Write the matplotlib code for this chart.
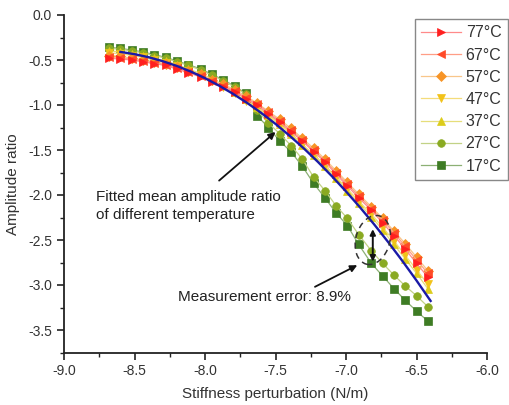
import matplotlib
matplotlib.use("Agg")
import matplotlib.pyplot as plt
import matplotlib.transforms as mtransforms
from matplotlib.patches import Ellipse
from matplotlib.ticker import MultipleLocator

plt.rcParams['font.family'] = ['Liberation Sans', 'DejaVu Sans']

# ---------------- data ----------------
x = [-8.68, -8.60, -8.52, -8.44, -8.36, -8.28, -8.20, -8.12, -8.03, -7.95,
     -7.87, -7.79, -7.71, -7.63, -7.55, -7.47, -7.39, -7.31, -7.23, -7.15,
     -7.07, -6.99, -6.91, -6.82, -6.74, -6.66, -6.58, -6.50, -6.42]

t77 = [-0.48, -0.49, -0.50, -0.52, -0.54, -0.56, -0.60, -0.64, -0.69, -0.74,
       -0.80, -0.85, -0.93, -1.00, -1.10, -1.19, -1.30, -1.40, -1.52, -1.63,
       -1.77, -1.90, -2.03, -2.17, -2.31, -2.45, -2.60, -2.76, -2.91]
t67 = [-0.47, -0.48, -0.49, -0.51, -0.53, -0.55, -0.59, -0.63, -0.68, -0.73,
       -0.79, -0.84, -0.92, -0.99, -1.08, -1.18, -1.28, -1.39, -1.50, -1.62,
       -1.75, -1.88, -2.01, -2.15, -2.28, -2.42, -2.57, -2.72, -2.87]
t57 = [-0.45, -0.46, -0.48, -0.50, -0.52, -0.54, -0.58, -0.62, -0.66, -0.72,
       -0.77, -0.83, -0.90, -0.98, -1.07, -1.16, -1.26, -1.37, -1.48, -1.60,
       -1.73, -1.86, -1.99, -2.13, -2.26, -2.40, -2.54, -2.69, -2.84]
t47 = [-0.42, -0.43, -0.45, -0.47, -0.50, -0.53, -0.57, -0.62, -0.67, -0.73,
       -0.80, -0.87, -0.95, -1.03, -1.12, -1.22, -1.32, -1.44, -1.55, -1.67,
       -1.80, -1.93, -2.07, -2.21, -2.36, -2.51, -2.67, -2.83, -2.99]
t37 = [-0.40, -0.41, -0.43, -0.45, -0.48, -0.51, -0.55, -0.60, -0.65, -0.71,
       -0.78, -0.85, -0.93, -1.02, -1.11, -1.21, -1.32, -1.44, -1.56, -1.68,
       -1.81, -1.95, -2.09, -2.24, -2.39, -2.55, -2.71, -2.87, -3.04]
t27 = [-0.37, -0.38, -0.40, -0.42, -0.45, -0.48, -0.52, -0.56, -0.61, -0.67,
       -0.73, -0.80, -0.88, -1.06, -1.20, -1.32, -1.45, -1.60, -1.80, -1.95,
       -2.12, -2.26, -2.44, -2.62, -2.76, -2.89, -3.01, -3.12, -3.24]
t17 = [-0.36, -0.37, -0.39, -0.41, -0.44, -0.47, -0.51, -0.55, -0.60, -0.66,
       -0.72, -0.79, -0.87, -1.12, -1.25, -1.40, -1.52, -1.68, -1.87, -2.03,
       -2.20, -2.34, -2.55, -2.76, -2.90, -3.04, -3.17, -3.29, -3.40]

fit_x = [-8.6, -8.5, -8.4, -8.3, -8.2, -8.1, -8.0, -7.9, -7.8, -7.7, -7.6, -7.5,
         -7.4, -7.3, -7.2, -7.1, -7.0, -6.9, -6.8, -6.7, -6.6, -6.5, -6.4]
fit_y = [-0.410, -0.435, -0.469, -0.513, -0.566, -0.629, -0.702, -0.785, -0.877,
         -0.978, -1.089, -1.210, -1.341, -1.481, -1.631, -1.791, -1.960, -2.138,
         -2.327, -2.525, -2.733, -2.950, -3.177]

labels = ['77°C', '67°C', '57°C', '47°C', '37°C', '27°C', '17°C']
series = [t77, t67, t57, t47, t37, t27, t17]
markers = ['>', '<', 'D', 'v', '^', 'o', 's']
mcolors = ['#ff1f1f', '#ff4a28', '#f79426', '#f2c218', '#dccc1a', '#8aaa22', '#3e7c24']
lcolors = ['#ff8a8a', '#ff9e86', '#f8c68a', '#f4dc7a', '#e6de7a', '#c2d286', '#8cb074']
msizes = [6, 6, 5, 6, 6, 5.5, 5.2]

# ---------------- figure ----------------
fig = plt.figure(figsize=(5.09, 4.05), dpi=100)
ax = fig.add_axes([64/509, 1-352.5/405, (487-64)/509, (352.5-15)/405])

handles = []
for i in range(len(series) - 1, -1, -1):
    h, = ax.plot(x, series[i], color=lcolors[i], lw=0.9, marker=markers[i],
                 ms=msizes[i], mfc=mcolors[i], mec=mcolors[i], mew=0.5,
                 label=labels[i], zorder=2 + (len(series) - i) * 0.1)
    handles.append(h)
handles = handles[::-1]

ax.plot(fit_x, fit_y, color='#1a1aa6', lw=1.7, zorder=5)

ax.set_xlim(-9.0, -6.0)
ax.set_ylim(-3.75, 0.0)
ax.xaxis.set_minor_locator(MultipleLocator(0.25))
ax.yaxis.set_minor_locator(MultipleLocator(0.25))
ax.set_xticks([-9.0, -8.5, -8.0, -7.5, -7.0, -6.5, -6.0])
ax.set_xticklabels(['-9.0', '-8.5', '-8.0', '-7.5', '-7.0', '-6.5', '-6.0'])
ax.set_yticks([0.0, -0.5, -1.0, -1.5, -2.0, -2.5, -3.0, -3.5])
ax.set_yticklabels(['0.0', '-0.5', '-1.0', '-1.5', '-2.0', '-2.5', '-3.0', '-3.5'])
for s in ['top', 'right']:
    ax.spines[s].set_visible(False)
for s in ['left', 'bottom']:
    ax.spines[s].set_linewidth(1.3)
    ax.spines[s].set_color('#222222')
ax.tick_params(which='major', direction='out', length=5, width=1.2,
               labelsize=10, colors='#222222', labelcolor='#333333')
ax.tick_params(which='minor', direction='out', length=3, width=1.0, colors='#222222')

ax.set_xlabel('Stiffness perturbation (N/m)', fontsize=11, color='#333333', labelpad=6)
ax.set_ylabel('Amplitude ratio', fontsize=11, color='#333333', labelpad=6)

# annotations
ax.text(-8.77, -2.12, 'Fitted mean amplitude ratio\nof different temperature',
        fontsize=11, color='#222222', ha='left', va='center', linespacing=1.35)
ax.annotate('', xy=(-7.50, -1.30), xytext=(-7.90, -1.84),
            arrowprops=dict(arrowstyle='-|>', color='#111111', lw=1.3,
                            mutation_scale=10, shrinkA=0, shrinkB=0))
ax.text(-8.19, -3.13, 'Measurement error: 8.9%', fontsize=11, color='#222222',
        ha='left', va='center')
ax.annotate('', xy=(-6.92, -2.78), xytext=(-7.22, -3.02),
            arrowprops=dict(arrowstyle='-|>', color='#111111', lw=1.3,
                            mutation_scale=10, shrinkA=0, shrinkB=0))
ax.annotate('', xy=(-6.81, -2.38), xytext=(-6.81, -2.74),
            arrowprops=dict(arrowstyle='<|-|>', color='#111111', lw=1.4,
                            mutation_scale=8, shrinkA=0, shrinkB=0))
etrans = fig.dpi_scale_trans + mtransforms.ScaledTranslation(-6.81, -2.50, ax.transData)
ell = Ellipse((0, 0), width=0.34, height=0.50, angle=-15, transform=etrans,
              fill=False, ls=(0, (4, 3)), lw=1.1, ec='#333333', zorder=6)
ax.add_patch(ell)

leg = fig.legend(handles=handles, loc='upper right',
                 bbox_to_anchor=(508/509, 1-19/405), bbox_transform=fig.transFigure,
                 fontsize=11.5, frameon=True, fancybox=False, edgecolor='#888888',
                 handlelength=2.5, handletextpad=0.3, labelspacing=0.45,
                 borderpad=0.4, borderaxespad=0, framealpha=1)
leg.get_frame().set_linewidth(1.0)
for t in leg.get_texts():
    t.set_color('#333333')

fig.savefig('out.png', dpi=100)
